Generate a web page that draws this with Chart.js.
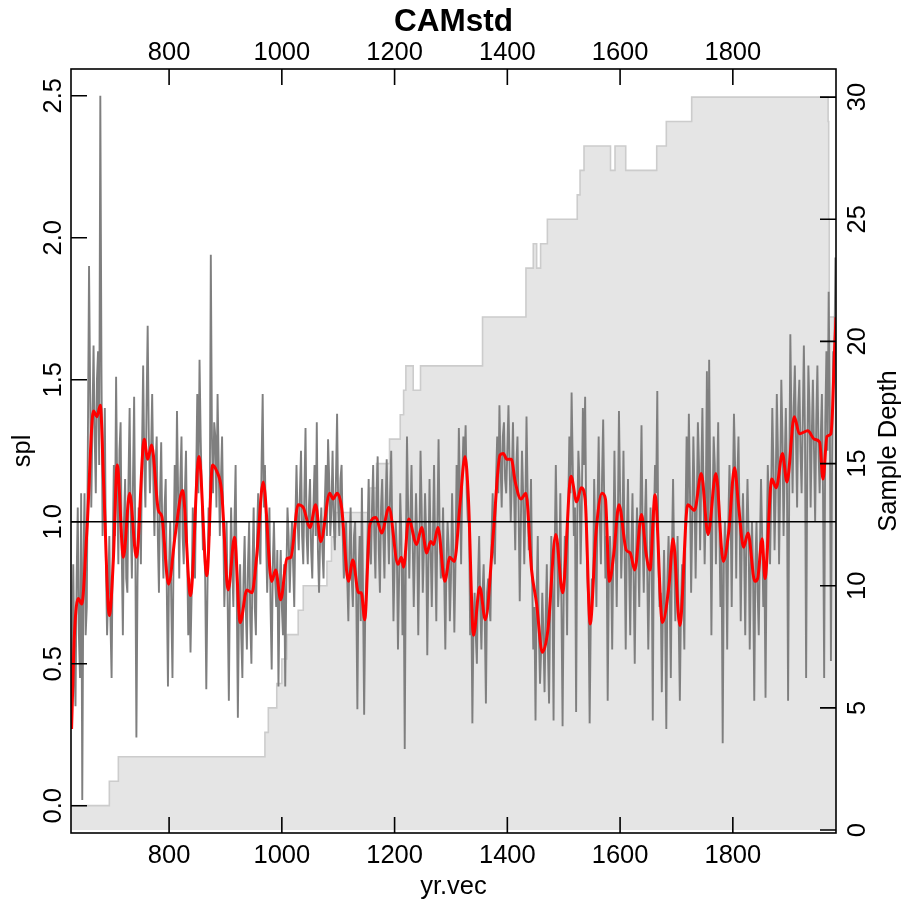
<!DOCTYPE html>
<html>
<head>
<meta charset="utf-8">
<title>CAMstd</title>
<script src="https://cdn.jsdelivr.net/npm/chart.js@4/dist/chart.umd.min.js"></script>
<style>
  html, body { margin: 0; padding: 0; background: #fff; }
  #wrap { width: 907px; height: 902px; }
</style>
</head>
<body>
<div id="wrap"><canvas id="crnChart" width="907" height="902"></canvas></div>
<script>
// Axis ranges and tick labels
const xMin = 626, xMax = 1983;
const xTicks = [800, 1000, 1200, 1400, 1600, 1800];
const splTicks = [0, 0.5, 1, 1.5, 2, 2.5];
const depthTicks = [0, 5, 10, 15, 20, 25, 30];
const refLevel = 1;

// Chronology: values at 626, 630, 634, ... (crnVals)
// and the years in between, 628, 632, ... (crnMid)
const crnStart = 626, crnStep = 4;
const crnVals = [
  0.30, 0.85, 0.35, 1.05, 0.45, 0.02, 1.10, 0.70, 1.90, 1.05,
  1.62, 1.10, 1.60, 2.50, 0.95, 1.40, 0.60, 0.95, 0.45, 1.20,
  1.51, 0.85, 1.35, 0.60, 1.15, 0.75, 1.40, 0.80, 1.44, 0.24,
  1.05, 0.85, 1.55, 1.05, 1.69, 1.10, 1.45, 0.95, 1.30, 0.75,
  1.28, 0.80, 1.15, 0.42, 1.00, 0.45, 1.20, 1.39, 0.80, 1.30,
  0.85, 1.25, 0.60, 0.54, 1.05, 0.80, 1.45, 1.57, 1.10, 0.95,
  0.41, 1.05, 1.94, 1.10, 1.30, 1.45, 0.95, 1.30, 0.70, 1.00,
  0.37, 1.05, 0.70, 1.20, 0.31, 0.85, 0.45, 0.95, 0.55, 1.00,
  0.50, 1.05, 0.60, 1.10, 0.85, 1.45, 1.20, 0.75, 1.05, 0.48,
  1.00, 0.70, 0.42, 0.90, 0.60, 0.42, 1.05, 0.75, 1.00, 0.70,
  1.20, 0.90, 1.25, 0.85, 1.33, 0.85, 1.15, 0.80, 1.20, 1.35,
  0.75, 1.05, 0.80, 1.20, 1.29, 0.95, 1.25, 0.90, 1.38, 0.95,
  1.20, 0.80, 1.00, 0.65, 1.05, 0.70, 1.00, 0.34, 0.95, 1.12,
  0.32, 0.80, 1.15, 0.85, 1.20, 0.80, 1.23, 0.75, 1.15, 0.80,
  1.22, 0.85, 1.25, 0.65, 1.00, 0.55, 1.10, 0.60, 0.20, 1.30,
  0.80, 1.20, 0.70, 1.10, 0.60, 1.25, 0.75, 1.10, 0.53, 1.15,
  0.70, 1.20, 0.65, 1.29, 0.80, 1.05, 0.55, 1.00, 0.65, 1.10,
  0.61, 1.20, 1.33, 0.85, 1.30, 1.34, 1.00, 0.60, 0.29, 0.75,
  0.50, 0.95, 0.55, 0.85, 0.36, 0.80, 0.65, 1.10, 0.85, 1.30,
  1.41, 1.05, 1.35, 1.10, 1.41, 1.00, 1.35, 0.90, 1.30, 0.72,
  1.25, 0.85, 1.37, 0.90, 1.15, 0.55, 0.30, 0.95, 0.43, 0.75,
  0.40, 0.85, 0.36, 0.95, 0.30, 1.20, 0.70, 1.10, 0.28, 0.95,
  0.60, 1.30, 1.455, 0.95, 0.33, 1.25, 0.85, 1.40, 1.44, 0.80,
  0.29, 0.80, 1.15, 0.70, 1.30, 0.85, 1.36, 0.80, 0.37, 0.95,
  0.55, 1.25, 0.70, 1.39, 0.80, 1.25, 0.55, 1.15, 0.60, 1.10,
  0.50, 1.05, 0.70, 1.34, 0.75, 1.15, 0.55, 1.05, 0.30, 1.20,
  1.46, 0.70, 0.40, 0.90, 0.27, 0.95, 0.45, 1.15, 0.65, 0.95,
  0.37, 0.85, 0.55, 1.30, 1.38, 0.75, 1.30, 0.80, 1.35, 0.90,
  1.40, 0.85, 1.53, 1.57, 0.60, 1.30, 0.85, 1.35, 0.70, 0.22,
  1.00, 0.55, 1.20, 0.70, 1.38, 0.80, 1.30, 0.65, 1.10, 0.60,
  1.15, 0.55, 1.00, 0.37, 1.00, 0.60, 1.15, 0.70, 0.38, 1.20,
  0.85, 1.40, 0.90, 1.45, 0.85, 1.50, 0.95, 1.40, 0.37, 1.66,
  1.10, 1.55, 1.05, 1.50, 1.10, 1.62, 0.45, 1.55, 1.05, 1.50,
  1.00, 1.55, 1.10, 1.45, 0.45, 1.60, 1.81, 0.51, 1.60, 1.93
];
const crnMid = [
  0.55, 0.50, 0.80, 0.60, 1.10, 0.85, 0.60, 1.30, 1.45, 1.35,
  1.30, 1.50, 1.20, 1.55, 1.20, 0.85, 0.75, 0.65, 0.90, 0.95,
  1.10, 1.25, 0.90, 1.00, 0.80, 1.15, 1.00, 1.15, 0.95, 0.80,
  1.00, 1.25, 1.20, 1.40, 1.30, 1.25, 1.15, 1.20, 0.95, 1.10,
  0.95, 1.05, 0.75, 0.85, 0.70, 0.90, 1.00, 1.10, 1.15, 0.95,
  1.10, 0.90, 0.80, 0.75, 0.95, 1.15, 1.10, 1.30, 0.90, 0.80,
  0.75, 0.95, 1.30, 1.35, 1.05, 1.20, 1.15, 1.00, 0.85, 0.70,
  0.80, 0.85, 1.00, 0.75, 0.70, 0.60, 0.80, 0.70, 0.85, 0.65,
  0.85, 0.70, 0.95, 0.90, 1.20, 1.05, 0.95, 0.90, 0.70, 0.85,
  0.80, 0.90, 0.75, 0.70, 0.85, 0.80, 0.95, 0.90, 0.85, 1.00,
  1.00, 1.10, 0.95, 1.10, 0.95, 1.05, 0.90, 1.05, 0.95, 0.90,
  0.95, 0.90, 1.05, 0.95, 1.15, 1.05, 1.00, 1.15, 1.05, 1.15,
  0.95, 0.90, 0.80, 0.90, 0.80, 0.95, 0.75, 0.80, 0.65, 0.75,
  0.70, 0.95, 0.90, 1.05, 0.95, 1.10, 0.90, 1.05, 0.95, 1.05,
  1.00, 1.10, 0.95, 0.85, 0.90, 0.80, 0.95, 0.85, 0.90, 1.05,
  1.00, 0.95, 0.90, 0.95, 0.90, 1.05, 0.90, 0.95, 0.85, 0.90,
  0.95, 0.90, 1.00, 0.95, 0.85, 0.80, 0.85, 0.90, 0.80, 0.90,
  0.85, 1.00, 1.10, 1.15, 1.20, 1.10, 1.05, 0.75, 0.65, 0.60,
  0.80, 0.70, 0.75, 0.65, 0.75, 0.70, 0.95, 0.90, 1.15, 1.10,
  1.20, 1.30, 1.15, 1.25, 1.20, 1.15, 1.10, 1.20, 1.05, 1.00,
  1.10, 1.05, 1.10, 0.95, 0.80, 0.70, 0.75, 0.60, 0.55, 0.60,
  0.65, 0.55, 0.70, 0.75, 0.90, 0.95, 0.80, 0.70, 0.75, 0.90,
  1.05, 1.10, 1.20, 1.05, 1.00, 1.15, 1.05, 1.20, 1.00, 0.70,
  0.65, 0.75, 0.95, 1.05, 1.00, 1.15, 1.05, 0.95, 0.80, 0.85,
  0.90, 0.95, 1.00, 1.10, 0.95, 0.90, 0.95, 0.85, 0.90, 0.80,
  0.85, 0.90, 1.05, 0.95, 1.00, 0.85, 0.80, 0.90, 1.00, 1.10,
  0.85, 0.75, 0.70, 0.65, 0.80, 0.75, 0.90, 0.85, 0.80, 0.65,
  0.70, 0.75, 1.00, 1.05, 1.10, 1.00, 1.10, 1.05, 1.20, 1.15,
  1.10, 1.05, 0.95, 1.10, 1.05, 1.20, 1.10, 1.00, 0.90, 0.85,
  0.90, 1.00, 1.05, 1.10, 1.20, 1.15, 1.00, 0.95, 0.90, 0.95,
  0.95, 0.85, 0.80, 0.85, 0.75, 0.90, 0.95, 0.85, 0.90, 1.05,
  1.10, 1.20, 1.10, 1.25, 1.15, 1.30, 1.20, 1.15, 1.10, 1.35,
  1.40, 1.30, 1.40, 1.25, 1.35, 1.30, 1.20, 1.40, 1.30, 1.25,
  1.35, 1.25, 1.30, 1.10, 1.35, 1.25, 1.40, 1.20, 1.55
];

// Smoothing spline (red)
const splYears = [
  627, 632, 639, 645, 654, 666, 672, 678, 684, 694, 701, 708, 719, 730, 742, 756, 762, 769, 781, 787,
  799, 811, 824, 838, 853, 867, 877, 884, 893, 905, 916, 926, 938, 947, 955, 967, 982, 989, 998, 1009,
  1016, 1029, 1038, 1050, 1060, 1069, 1085, 1091, 1098, 1106, 1118, 1126, 1136, 1141, 1147, 1156, 1167, 1177, 1190, 1206,
  1212, 1216, 1225, 1239, 1248, 1257, 1264, 1269, 1277, 1289, 1298, 1306, 1316, 1325, 1331, 1340, 1351, 1361, 1375, 1387,
  1393, 1399, 1407, 1414, 1424, 1433, 1443, 1452, 1462, 1472, 1486, 1498, 1513, 1523, 1531, 1538, 1547, 1557, 1568, 1574,
  1581, 1589, 1598, 1611, 1618, 1626, 1638, 1646, 1653, 1662, 1675, 1687, 1694, 1706, 1720, 1732, 1744, 1756, 1770, 1783,
  1793, 1803, 1810, 1819, 1827, 1839, 1844, 1852, 1857, 1869, 1877, 1888, 1896, 1909, 1918, 1933, 1945, 1954, 1960, 1967,
  1974, 1977, 1980, 1983
];
const splVals = [
  0.27, 0.60, 0.73, 0.71, 0.96, 1.39, 1.37, 1.41, 1.13, 0.67, 0.86, 1.20, 0.875, 1.10, 0.875, 1.29, 1.22, 1.27, 1.04, 1.02,
  0.78, 0.955, 1.11, 0.74, 1.23, 0.81, 1.20, 1.18, 1.11, 0.76, 0.945, 0.645, 0.76, 0.75, 0.87, 1.14, 0.79, 0.83, 0.725, 0.87,
  0.875, 1.06, 1.05, 0.98, 1.06, 0.93, 1.10, 1.08, 1.10, 1.05, 0.79, 0.865, 0.75, 0.75, 0.655, 0.99, 1.015, 0.96, 1.05, 0.85,
  0.875, 0.84, 1.01, 0.92, 0.98, 0.89, 0.93, 0.92, 0.98, 0.79, 0.875, 0.86, 1.06, 1.23, 1.08, 0.60, 0.77, 0.655, 0.955, 1.235,
  1.24, 1.22, 1.22, 1.14, 1.08, 1.10, 0.83, 0.71, 0.54, 0.62, 0.955, 0.75, 1.16, 1.07, 1.12, 1.08, 0.64, 0.955, 1.10, 1.08,
  0.79, 0.89, 1.06, 0.90, 0.89, 0.83, 1.025, 0.89, 0.83, 1.095, 0.645, 0.78, 0.94, 0.635, 1.06, 1.04, 1.17, 0.955, 1.17, 0.86,
  0.97, 1.19, 1.06, 0.91, 0.96, 0.79, 0.80, 0.94, 0.80, 1.15, 1.12, 1.24, 1.14, 1.37, 1.31, 1.32, 1.29, 1.28, 1.15, 1.30,
  1.31, 1.40, 1.58, 1.72
];

// Sample depth (step changes)
const depthYears = [
  626, 694, 710, 970, 976, 991, 1000, 1009, 1029, 1038,
  1080, 1088, 1096, 1156, 1168, 1191, 1210, 1216, 1220, 1233,
  1246, 1356, 1433, 1446, 1452, 1459, 1471, 1524, 1529, 1536,
  1583, 1591, 1610, 1665, 1682, 1727, 1969, 1970, 1971, 1983
];
const depthVals = [
  1, 2, 3, 4, 5, 6, 7, 8, 9, 10,
  11, 12, 13, 14, 15, 16, 17, 18, 19, 18,
  19, 21, 23, 24, 23, 24, 25, 26, 27, 28,
  27, 28, 27, 28, 29, 30, 29, 25, 21, 21
];

const FONT = '"Liberation Sans", Arial, Helvetica, sans-serif';

// R-style frame: box, inward ticks on four sides, rotated y labels
const rFrame = {
    id: 'rFrame',
    afterDraw(chart) {
        const ctx = chart.ctx;
        const a = chart.chartArea;
        const sx = chart.scales.x, sy = chart.scales.y, sd = chart.scales.y2;
        const TL = 16;
        ctx.save();
        ctx.strokeStyle = '#000';
        ctx.lineWidth = 1.6;
        ctx.strokeRect(a.left, a.top, a.right - a.left, a.bottom - a.top);

        ctx.beginPath();
        xTicks.forEach(v => {
            const p = sx.getPixelForValue(v);
            ctx.moveTo(p, a.bottom); ctx.lineTo(p, a.bottom - TL);
            ctx.moveTo(p, a.top); ctx.lineTo(p, a.top + TL);
        });
        splTicks.forEach(v => {
            const p = sy.getPixelForValue(v);
            ctx.moveTo(a.left, p); ctx.lineTo(a.left + TL, p);
        });
        depthTicks.forEach(v => {
            const p = sd.getPixelForValue(v);
            ctx.moveTo(a.right, p); ctx.lineTo(a.right - TL, p);
        });
        ctx.stroke();

        const vtext = (t, x, y) => {
            ctx.save();
            ctx.translate(x, y);
            ctx.rotate(-Math.PI / 2);
            ctx.fillText(t, 0, 0);
            ctx.restore();
        };

        ctx.fillStyle = '#000';
        ctx.font = '25.5px ' + FONT;
        ctx.textAlign = 'center';
        ctx.textBaseline = 'alphabetic';
        xTicks.forEach(v => {
            const p = sx.getPixelForValue(v);
            ctx.fillText(String(v), p, a.bottom + 30);
            ctx.fillText(String(v), p, a.top - 9);
        });
        splTicks.forEach(v => vtext(v.toFixed(1), a.left - 10, sy.getPixelForValue(v)));
        depthTicks.forEach(v => vtext(String(v), a.right + 29, sd.getPixelForValue(v)));

        const midX = (a.left + a.right) / 2, midY = (a.top + a.bottom) / 2;
        ctx.fillText('yr.vec', midX, a.bottom + 61);
        vtext('spl', a.left - 41, midY);
        vtext('Sample Depth', a.right + 60, midY);

        ctx.font = 'bold 31.5px ' + FONT;
        ctx.fillText('CAMstd', midX, 31);
        ctx.restore();
    }
};

// annual-ish series: main reading, then the in-between reading
const crnData = [];
crnVals.forEach((v, i) => {
    const yr = crnStart + i * crnStep;
    crnData.push({ x: yr, y: v });
    if (i < crnMid.length) crnData.push({ x: yr + crnStep / 2, y: crnMid[i] });
});
const splData = splYears.map((yr, i) => ({ x: yr, y: splVals[i] }));
const depthData = depthYears.map((yr, i) => ({ x: yr, y: depthVals[i] }));

new Chart(document.getElementById('crnChart'), {
    type: 'line',
    data: {
        datasets: [
            {
                label: 'ref',
                data: [{ x: xMin, y: refLevel }, { x: xMax, y: refLevel }],
                borderColor: '#000000',
                borderWidth: 1.6,
                pointRadius: 0,
                yAxisID: 'y'
            },
            {
                label: 'spline',
                data: splData,
                borderColor: '#FF0000',
                borderWidth: 3,
                pointRadius: 0,
                cubicInterpolationMode: 'monotone',
                yAxisID: 'y'
            },
            {
                label: 'spl',
                data: crnData,
                borderColor: '#7F7F7F',
                borderWidth: 1.9,
                pointRadius: 0,
                tension: 0,
                yAxisID: 'y'
            },
            {
                label: 'Sample Depth',
                data: depthData,
                stepped: 'before',
                borderColor: '#CCCCCC',
                borderWidth: 1.6,
                backgroundColor: '#E5E5E5',
                fill: { value: 0 },
                pointRadius: 0,
                yAxisID: 'y2'
            }
        ]
    },
    options: {
        responsive: false,
        animation: false,
        layout: { padding: { left: 71, right: 71, top: 69, bottom: 69 } },
        plugins: {
            legend: { display: false },
            tooltip: { enabled: false },
            title: { display: false }
        },
        scales: {
            x: { type: 'linear', min: xMin, max: xMax, display: false },
            y: { type: 'linear', min: -0.096, max: 2.594, display: false },
            y2: { type: 'linear', position: 'right', min: -0.12, max: 31.15, display: false }
        }
    },
    plugins: [rFrame]
});
</script>
</body>
</html>
